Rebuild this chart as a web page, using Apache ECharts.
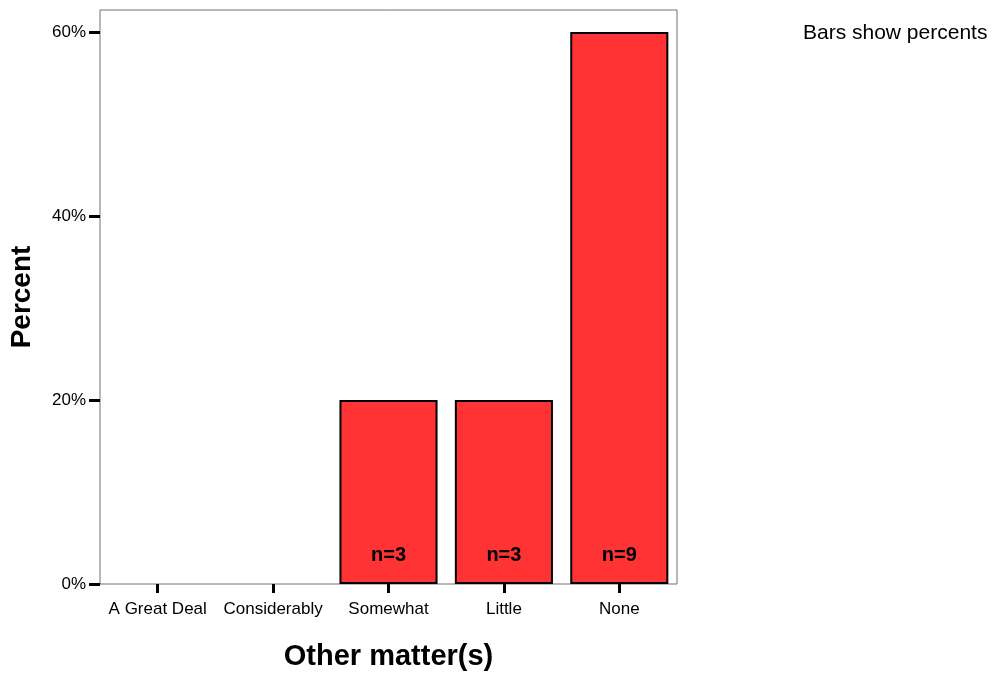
<!DOCTYPE html>
<html><head><meta charset="utf-8">
<script src="https://cdn.jsdelivr.net/npm/echarts@6/dist/echarts.min.js"></script>
<style>html,body{margin:0;padding:0;background:#fff}#c{width:999px;height:679px}</style>
</head><body><div id="c"></div>
<script>
const categories = ['A Great Deal', 'Considerably', 'Somewhat', 'Little', 'None'];
const percents = [0, 0, 20, 20, 60];
const counts = [0, 0, 3, 3, 9];
const yTicks = [0, 20, 40, 60];

const barData = percents.map(v => v > 0 ? v : { value: v, itemStyle: { borderWidth: 0, opacity: 0 } });

const chart = echarts.init(document.getElementById('c'));
chart.setOption({
  backgroundColor: '#fff',
  animation: false,
  textStyle: { fontFamily: 'Liberation Sans, Arial, sans-serif' },
  grid: { left: 100, right: 322, top: 10, bottom: 95, show: true, borderColor: '#707070', borderWidth: 1, containLabel: false },
  graphic: [{ type: 'text', left: 803, top: 23, style: { text: 'Bars show percents', font: '21px "Liberation Sans", Arial, sans-serif', fill: '#000' } }],
  xAxis: {
    type: 'category', data: categories,
    name: 'Other matter(s)', nameLocation: 'middle', nameGap: 58,
    nameTextStyle: { fontSize: 29, fontWeight: 'bold', color: '#000' },
    axisLine: { show: false },
    axisTick: { show: true, alignWithLabel: true, length: 9, lineStyle: { color: '#000', width: 3 } },
    axisLabel: { color: '#000', fontSize: 17, margin: 17, interval: 0 }
  },
  yAxis: {
    type: 'value', min: 0, max: 62.4, interval: 20,
    name: 'Percent', nameLocation: 'middle', nameGap: 64, nameRotate: 90,
    nameTextStyle: { fontSize: 28, fontWeight: 'bold', color: '#000' },
    splitLine: { show: false },
    axisLine: { show: false },
    axisTick: { show: true, length: 11, lineStyle: { color: '#000', width: 3 }, customValues: yTicks },
    axisLabel: { color: '#000', fontSize: 17, margin: 14, formatter: '{value}%', customValues: yTicks }
  },
  series: [{
    type: 'bar', data: barData, barCategoryGap: '15%',
    itemStyle: { color: '#ff3333', borderColor: '#000', borderWidth: 2 },
    label: {
      show: true, position: 'insideBottom', distance: 19,
      formatter: p => counts[p.dataIndex] > 0 ? 'n=' + counts[p.dataIndex] : '',
      fontSize: 20, fontWeight: 'bold', color: '#000'
    }
  }]
});
</script></body></html>
